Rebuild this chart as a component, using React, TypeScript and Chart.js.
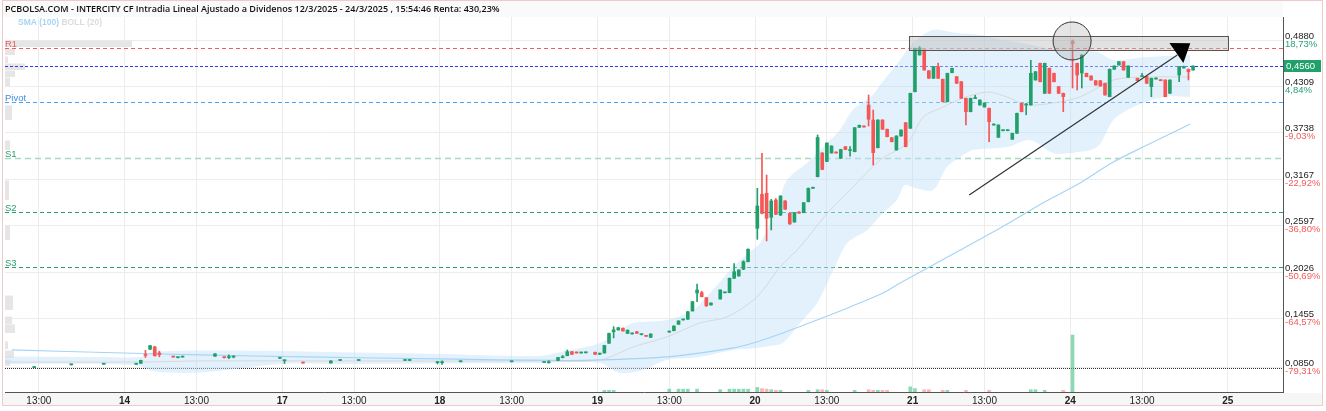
import React, { useEffect, useRef } from 'react';
import { Chart, registerables } from 'chart.js';

Chart.register(...registerables);

const titleText =
  'PCBOLSA.COM - INTERCITY CF Intradia Lineal Ajustado a Dividenos 12/3/2025 - 24/3/2025 , 15:54:46 Renta: 430,23%';
const indicatorSma = 'SMA (100)';
const indicatorBoll = 'BOLL (20)';

// x values are 15-minute session slots counted from the 13/3 open (34 slots per session)
// candles: [slot, open, high, low, close]
const candles: number[][] = [
  [14, 0.0850, 0.0858, 0.0850, 0.0856],
  [22, 0.0884, 0.0892, 0.0882, 0.0890],
  [29, 0.0892, 0.0900, 0.0890, 0.0898],
  [36, 0.0892, 0.0900, 0.0890, 0.0898],
  [37, 0.0903, 0.0942, 0.0900, 0.0939],
  [38, 0.1010, 0.1062, 0.0975, 0.1000],
  [39, 0.1076, 0.1125, 0.1070, 0.1120],
  [40, 0.1106, 0.1112, 0.0990, 0.0997],
  [41, 0.1030, 0.1053, 0.0983, 0.1010],
  [44, 0.0986, 0.0988, 0.0978, 0.0980],
  [45, 0.0972, 0.0980, 0.0970, 0.0978],
  [46, 0.0980, 0.0988, 0.0978, 0.0986],
  [53, 0.0990, 0.1022, 0.0988, 0.1019],
  [55, 0.0980, 0.0982, 0.0968, 0.0972],
  [56, 0.0975, 0.1006, 0.0961, 0.0985],
  [57, 0.0980, 0.0995, 0.0970, 0.0990],
  [67, 0.0965, 0.0978, 0.0960, 0.0975],
  [68, 0.0935, 0.0945, 0.0900, 0.0942],
  [72, 0.0912, 0.0914, 0.0905, 0.0906],
  [78, 0.0907, 0.0935, 0.0905, 0.0932],
  [80, 0.0938, 0.0944, 0.0936, 0.0942],
  [84, 0.0938, 0.0944, 0.0936, 0.0942],
  [94, 0.0938, 0.0944, 0.0936, 0.0942],
  [95, 0.0938, 0.0944, 0.0936, 0.0942],
  [101, 0.0912, 0.0925, 0.0895, 0.0918],
  [102, 0.0910, 0.0932, 0.0890, 0.0920],
  [106, 0.0922, 0.0930, 0.0920, 0.0928],
  [117, 0.0922, 0.0930, 0.0920, 0.0928],
  [124, 0.0912, 0.0922, 0.0910, 0.0920],
  [125, 0.0910, 0.0935, 0.0905, 0.0920],
  [127, 0.0938, 0.0978, 0.0936, 0.0975],
  [128, 0.0972, 0.1000, 0.0970, 0.0980],
  [129, 0.0997, 0.1067, 0.0995, 0.1046],
  [130, 0.1046, 0.1050, 0.1010, 0.1014],
  [131, 0.1040, 0.1042, 0.1028, 0.1030],
  [132, 0.1030, 0.1038, 0.1028, 0.1035],
  [133, 0.1032, 0.1040, 0.1030, 0.1037],
  [135, 0.1039, 0.1042, 0.1010, 0.1014],
  [136, 0.1014, 0.1030, 0.1012, 0.1027],
  [137, 0.1030, 0.1125, 0.1028, 0.1122],
  [138, 0.1150, 0.1275, 0.1148, 0.1272],
  [139, 0.1289, 0.1354, 0.1215, 0.1314],
  [140, 0.1313, 0.1345, 0.1310, 0.1341],
  [141, 0.1334, 0.1338, 0.1298, 0.1301],
  [142, 0.1270, 0.1315, 0.1268, 0.1310],
  [143, 0.1265, 0.1275, 0.1262, 0.1272],
  [144, 0.1292, 0.1295, 0.1270, 0.1272],
  [145, 0.1255, 0.1265, 0.1252, 0.1262],
  [146, 0.1245, 0.1247, 0.1233, 0.1235],
  [147, 0.1223, 0.1266, 0.1220, 0.1264],
  [151, 0.1287, 0.1300, 0.1285, 0.1297],
  [152, 0.1304, 0.1365, 0.1302, 0.1362],
  [153, 0.1383, 0.1427, 0.1380, 0.1424],
  [154, 0.1437, 0.1448, 0.1435, 0.1445],
  [155, 0.1445, 0.1541, 0.1443, 0.1538],
  [156, 0.1547, 0.1664, 0.1545, 0.1661],
  [157, 0.1768, 0.1879, 0.1661, 0.1805],
  [158, 0.1772, 0.1790, 0.1720, 0.1723],
  [159, 0.1710, 0.1712, 0.1600, 0.1612],
  [160, 0.1621, 0.1648, 0.1619, 0.1645],
  [162, 0.1694, 0.1808, 0.1692, 0.1805],
  [163, 0.1770, 0.1780, 0.1768, 0.1777],
  [164, 0.1772, 0.1952, 0.1770, 0.1949],
  [165, 0.1949, 0.2131, 0.1947, 0.2030],
  [166, 0.1977, 0.2054, 0.1975, 0.2051],
  [167, 0.2061, 0.2165, 0.2055, 0.2153],
  [168, 0.2153, 0.2310, 0.2150, 0.2306],
  [170, 0.2564, 0.3056, 0.2428, 0.2838],
  [171, 0.2982, 0.3486, 0.2740, 0.2748],
  [172, 0.2994, 0.3219, 0.2408, 0.2687],
  [173, 0.2699, 0.2920, 0.2543, 0.2900],
  [174, 0.2912, 0.2930, 0.2730, 0.2736],
  [175, 0.2727, 0.2965, 0.2720, 0.2961],
  [176, 0.2900, 0.2905, 0.2795, 0.2798],
  [177, 0.2748, 0.2752, 0.2612, 0.2617],
  [178, 0.2641, 0.2760, 0.2638, 0.2756],
  [179, 0.2764, 0.2768, 0.2748, 0.2750],
  [180, 0.2756, 0.2882, 0.2754, 0.2879],
  [181, 0.2891, 0.3060, 0.2888, 0.3056],
  [182, 0.3056, 0.3070, 0.3054, 0.3066],
  [183, 0.3199, 0.3712, 0.3195, 0.3681],
  [184, 0.3490, 0.3495, 0.3284, 0.3287],
  [185, 0.3386, 0.3616, 0.3383, 0.3613],
  [186, 0.3490, 0.3580, 0.3488, 0.3576],
  [187, 0.3500, 0.3503, 0.3488, 0.3490],
  [188, 0.3425, 0.3536, 0.3422, 0.3533],
  [189, 0.3568, 0.3570, 0.3530, 0.3533],
  [190, 0.3520, 0.3570, 0.3450, 0.3530],
  [191, 0.3506, 0.3804, 0.3504, 0.3801],
  [192, 0.3806, 0.3834, 0.3804, 0.3831],
  [193, 0.3820, 0.3823, 0.3808, 0.3810],
  [194, 0.4080, 0.4203, 0.3822, 0.3905],
  [195, 0.3896, 0.4019, 0.3342, 0.3494],
  [196, 0.3555, 0.3899, 0.3553, 0.3896],
  [197, 0.3896, 0.3899, 0.3780, 0.3782],
  [198, 0.3782, 0.3785, 0.3689, 0.3691],
  [199, 0.3678, 0.3681, 0.3627, 0.3629],
  [200, 0.3527, 0.3702, 0.3525, 0.3699],
  [201, 0.3699, 0.3776, 0.3697, 0.3773],
  [202, 0.3863, 0.3866, 0.3566, 0.3568],
  [203, 0.3794, 0.4227, 0.3792, 0.4224],
  [204, 0.4244, 0.4782, 0.4242, 0.4778],
  [205, 0.4696, 0.4800, 0.4694, 0.4782],
  [206, 0.4757, 0.4760, 0.4508, 0.4511],
  [207, 0.4502, 0.4505, 0.4406, 0.4409],
  [208, 0.4409, 0.4555, 0.4407, 0.4552],
  [209, 0.4552, 0.4597, 0.4406, 0.4409],
  [210, 0.4397, 0.4400, 0.4118, 0.4121],
  [211, 0.4121, 0.4473, 0.4119, 0.4470],
  [212, 0.4478, 0.4535, 0.4476, 0.4532],
  [213, 0.4429, 0.4432, 0.4344, 0.4347],
  [214, 0.4367, 0.4370, 0.4160, 0.4163],
  [215, 0.4163, 0.4166, 0.3834, 0.3998],
  [216, 0.3998, 0.4166, 0.3996, 0.4163],
  [217, 0.4160, 0.4200, 0.4158, 0.4170],
  [218, 0.4081, 0.4145, 0.4079, 0.4142],
  [219, 0.4056, 0.4108, 0.4054, 0.4105],
  [220, 0.4040, 0.4043, 0.3629, 0.3875],
  [221, 0.3834, 0.3848, 0.3832, 0.3845],
  [222, 0.3683, 0.3837, 0.3681, 0.3834],
  [223, 0.3765, 0.3776, 0.3763, 0.3773],
  [224, 0.3765, 0.3776, 0.3763, 0.3773],
  [225, 0.3659, 0.3735, 0.3657, 0.3732],
  [226, 0.3732, 0.3981, 0.3730, 0.3978],
  [227, 0.4101, 0.4104, 0.3996, 0.3998],
  [228, 0.4080, 0.4101, 0.3960, 0.4090],
  [229, 0.4081, 0.4630, 0.4079, 0.4470],
  [230, 0.4388, 0.4493, 0.4386, 0.4490],
  [231, 0.4593, 0.4596, 0.4364, 0.4367],
  [232, 0.4224, 0.4596, 0.4222, 0.4593],
  [233, 0.4532, 0.4535, 0.4221, 0.4224],
  [234, 0.4470, 0.4473, 0.4364, 0.4367],
  [235, 0.4306, 0.4309, 0.4221, 0.4224],
  [236, 0.4224, 0.4227, 0.3998, 0.4183],
  [238, 0.4868, 0.4880, 0.4290, 0.4832],
  [239, 0.4593, 0.4596, 0.4265, 0.4450],
  [240, 0.4474, 0.4698, 0.4290, 0.4695],
  [241, 0.4470, 0.4473, 0.4427, 0.4429],
  [242, 0.4437, 0.4440, 0.4386, 0.4388],
  [243, 0.4379, 0.4382, 0.4325, 0.4327],
  [244, 0.4379, 0.4382, 0.4312, 0.4314],
  [245, 0.4347, 0.4350, 0.4202, 0.4204],
  [246, 0.4183, 0.4523, 0.4181, 0.4520],
  [247, 0.4520, 0.4563, 0.4518, 0.4560],
  [248, 0.4572, 0.4616, 0.4570, 0.4613],
  [249, 0.4613, 0.4616, 0.4509, 0.4511],
  [250, 0.4421, 0.4563, 0.4419, 0.4560],
  [252, 0.4409, 0.4412, 0.4378, 0.4380],
  [253, 0.4430, 0.4470, 0.4428, 0.4440],
  [254, 0.4429, 0.4432, 0.4345, 0.4347],
  [255, 0.4306, 0.4412, 0.4183, 0.4409],
  [256, 0.4400, 0.4415, 0.4398, 0.4412],
  [257, 0.4390, 0.4393, 0.4378, 0.4380],
  [258, 0.4388, 0.4391, 0.4181, 0.4183],
  [259, 0.4224, 0.4391, 0.4222, 0.4388],
  [261, 0.4450, 0.4555, 0.4367, 0.4552],
  [262, 0.4536, 0.4560, 0.4534, 0.4550],
  [263, 0.4520, 0.4523, 0.4388, 0.4490],
  [264, 0.4511, 0.4563, 0.4509, 0.4560],
];

const volumeSlots = [137, 138, 139, 151, 153, 154, 155, 157, 162, 164, 165, 166, 167, 168, 170, 171, 172, 173, 174, 175,
  181, 183, 184, 185, 191, 194, 195, 196, 197, 198, 203, 204, 206, 207, 210, 211, 215, 220, 229, 230, 232, 236, 238];
const volumeValues = [3, 3, 3, 5, 5, 5, 5, 5, 4, 5, 5, 5, 5, 5, 8, 6, 5, 4, 3, 3,
  3, 4, 4, 3, 3, 4, 3, 3, 3, 3, 9, 6, 4, 4, 3, 3, 3, 3, 4, 4, 3, 3, 100];
// 1 = buying (green) bar, 0 = selling (red) bar
const volumeUp = [1, 1, 1, 1, 1, 1, 1, 1, 1, 1, 1, 1, 1, 1, 1, 0, 0, 1, 0, 1,
  1, 1, 0, 1, 1, 0, 0, 1, 0, 0, 1, 1, 0, 0, 0, 1, 0, 0, 1, 1, 1, 0, 1];

const smaSlots = [9.7, 33.7, 50.3, 73.3, 102, 127.3, 136.6, 151, 165.3, 169.6, 176, 183.4, 190.5, 197.6, 201.3, 214.3, 222.9, 232.1, 240.1, 247.3, 254.6, 263.9];
const smaValues = [0.1067, 0.1030, 0.1006, 0.0981, 0.0957, 0.0938, 0.0944, 0.0981, 0.1092, 0.1153, 0.1276, 0.1436, 0.1596, 0.1768, 0.1891, 0.2297, 0.2568, 0.2875, 0.3121, 0.3379, 0.3589, 0.3847];

const bollUpperSlots = [8.2, 28.7, 37.3, 40.6, 50.3, 67.5, 78.3, 102, 123.6, 128, 136.6, 140.9, 143.7, 151, 156.7, 160.3, 165.3, 168.9, 171.1, 174.8, 176.9, 181.2, 185.6, 188.3, 191.1, 195.4, 197, 201.3, 204.1, 208.4, 213.6, 218.5, 223.5, 227.8, 232.5, 237.3, 243.8, 247.3, 254.6, 263.9];
const bollUpperValues = [0.0987, 0.0981, 0.0981, 0.1042, 0.1061, 0.1055, 0.1042, 0.1018, 0.0993, 0.1042, 0.1153, 0.1313, 0.1399, 0.1436, 0.1559, 0.1768, 0.2088, 0.2272, 0.2383, 0.2826, 0.3158, 0.3367, 0.3613, 0.3773, 0.4019, 0.4204, 0.4327, 0.4634, 0.4843, 0.5003, 0.4966, 0.4942, 0.4880, 0.4843, 0.4782, 0.4757, 0.4732, 0.4634, 0.4671, 0.4695];

const bollLowerSlots = [8.2, 28.7, 37.3, 40.6, 50.3, 67.5, 78.3, 102, 123.6, 128, 136.6, 140.9, 145.8, 151, 158.1, 165.3, 170.4, 173.2, 176, 179.7, 183.4, 186.9, 189.9, 194.2, 197.6, 200.6, 202.3, 204.5, 208.4, 211.4, 214.9, 217, 224.4, 229.3, 234.3, 238, 243.8, 247.3, 251.6, 258, 263.9];
const bollLowerValues = [0.0895, 0.0895, 0.0870, 0.0803, 0.0790, 0.0895, 0.0895, 0.0901, 0.0907, 0.0919, 0.0907, 0.0784, 0.0821, 0.0944, 0.0981, 0.1067, 0.1092, 0.1116, 0.1153, 0.1399, 0.1645, 0.2051, 0.2383, 0.2543, 0.2752, 0.2912, 0.3097, 0.3060, 0.3035, 0.3318, 0.3466, 0.3527, 0.3564, 0.3650, 0.3490, 0.3490, 0.3564, 0.3896, 0.4056, 0.4179, 0.4179];

const bollMidSlots = [8.2, 37.3, 50.3, 78.3, 123.6, 136.6, 143.7, 151, 158.1, 163.9, 170.4, 175.4, 179.7, 185.6, 190.5, 197, 202.9, 206.3, 210.6, 214.9, 220.1, 224.4, 228.7, 234.3, 240.1, 247.3, 254.6, 263.9];
const bollMidValues = [0.0919, 0.0919, 0.0932, 0.0932, 0.0932, 0.0944, 0.1104, 0.1227, 0.1399, 0.1473, 0.1719, 0.2088, 0.2334, 0.2752, 0.3035, 0.3404, 0.3613, 0.3933, 0.4056, 0.4167, 0.4240, 0.4179, 0.4081, 0.4105, 0.4179, 0.4388, 0.4425, 0.4425];

// volume-at-price profile (price bin top, bottom, volume)
const profileTops = [0.4880, 0.4782, 0.4683, 0.4597, 0.4511, 0.4425, 0.4081, 0.3650, 0.3158, 0.2604, 0.1743, 0.1485, 0.1387, 0.1178, 0.1067, 0.0956];
const profileBottoms = [0.4794, 0.4695, 0.4597, 0.4511, 0.4425, 0.4314, 0.3896, 0.3527, 0.2912, 0.2420, 0.1559, 0.1387, 0.1276, 0.1079, 0.0969, 0.0870];
const profileVolumes = [127, 10, 3, 20, 10, 5, 7, 5, 4, 5, 8, 7, 10, 3, 9, 5];

const xTickValues = [15.5, 34, 49.5, 68, 83.5, 102, 117.5, 136, 151.5, 170, 185.5, 204, 219.5, 238, 253.5, 272];
const xTickLabels = ['13:00', '14', '13:00', '17', '13:00', '18', '13:00', '19', '13:00', '20', '13:00', '21', '13:00', '24', '13:00', '25'];

const yTickValues = [0.0850, 0.1455, 0.2026, 0.2597, 0.3167, 0.3738, 0.4309, 0.4880];
const yTickLabels = ['0,0850', '0,1455', '0,2026', '0,2597', '0,3167', '0,3738', '0,4309', '0,4880'];
const yTickPercents = ['-79,31%', '-64,57%', '-50,69%', '-36,80%', '-22,92%', '-9,03%', '4,84%', '18,73%'];

const levelNames = ['R1', '', 'Pivot', 'S1', 'S2', 'S3', ''];
const levelValues = [0.4782, 0.4560, 0.4117, 0.3432, 0.2764, 0.2088, 0.0850];

const lastPrice = 0.4560;
const lastPriceLabel = '0,4560';

// drawing annotations (data coordinates)
const zoneSlots = [203.2, 272];
const zonePrices = [0.4929, 0.4757];
const circleSlot = 238.4;
const circlePrice = 0.4868;
const trendSlots = [216.2, 261.1];
const trendPrices = [0.2973, 0.4695];
const arrowSlots = [259.4, 263.9, 262.4];
const arrowPrices = [0.4843, 0.4840, 0.4597];

const X_MIN = 8.2;
const X_MAX = 283.9;
const Y_MIN = 0.055;
const Y_MAX = 0.5163;

// ---------- styles ----------
const GREEN = '#22a06b';
const RED = '#f55656';
const NARROW = '"Liberation Sans Narrow", "Liberation Sans", Arial, sans-serif';
const SANS = '"Liberation Sans", Arial, sans-serif';
const levelStyles = [
  { color: '#f25c5c', dash: [4, 3], width: 1, label: '#f25c5c' },
  { color: '#3535f0', dash: [3, 2], width: 1, label: '' },
  { color: '#4aa3f0', dash: [4, 3], width: 1, label: '#3a8ee6' },
  { color: '#a6d9c3', dash: [6, 4], width: 1.6, label: '#2a9d6f' },
  { color: '#2a9d6f', dash: [4, 3], width: 1, label: '#2a9d6f' },
  { color: '#2a9d6f', dash: [4, 3], width: 1, label: '#2a9d6f' },
  { color: '#333333', dash: [1, 1], width: 1, label: '' },
];

const isUp = (c: number[]) => c[4] >= c[1];

const framePlugin = {
  id: 'frame',
  beforeDraw(chart: any) {
    const ctx = chart.ctx;
    const { chartArea } = chart;
    ctx.save();
    ctx.fillStyle = '#ffffff';
    ctx.fillRect(0, 0, chart.width, chart.height);
    ctx.fillStyle = '#f6f6f6';
    ctx.fillRect(3, chartArea.bottom + 1, 1319, 13);
    ctx.fillStyle = '#fafafa';
    ctx.fillRect(3, 1, chartArea.right - 3, chartArea.top - 1);
    ctx.strokeStyle = '#efcaca';
    ctx.lineWidth = 1;
    ctx.strokeRect(2.5, 0.5, 1320, 405);
    ctx.restore();
  },
  beforeDatasetsDraw(chart: any) {
    const ctx = chart.ctx;
    const { chartArea } = chart;
    const y = chart.scales.y;
    ctx.save();
    // volume profile
    ctx.fillStyle = '#e6e6e6';
    profileTops.forEach((t, i) => {
      const y1 = y.getPixelForValue(t);
      const y2 = y.getPixelForValue(profileBottoms[i]);
      ctx.fillRect(chartArea.left, y1 + 0.5, profileVolumes[i], y2 - y1 - 0.5);
    });
    // levels
    levelValues.forEach((v, i) => {
      const st = levelStyles[i];
      const py = Math.round(y.getPixelForValue(v)) + 0.5;
      ctx.beginPath();
      ctx.setLineDash(st.dash);
      ctx.strokeStyle = st.color;
      ctx.lineWidth = st.width;
      ctx.moveTo(chartArea.left, py);
      ctx.lineTo(chartArea.right, py);
      ctx.stroke();
      if (levelNames[i]) {
        ctx.setLineDash([]);
        ctx.fillStyle = st.label;
        ctx.font = '9.5px ' + SANS;
        ctx.textBaseline = 'alphabetic';
        ctx.textAlign = 'left';
        ctx.fillText(levelNames[i], chartArea.left, py - 2);
      }
    });
    ctx.restore();
  },
  afterDatasetsDraw(chart: any) {
    const ctx = chart.ctx;
    const xs = chart.scales.x;
    const ys = chart.scales.y;
    const px = (s: number) => xs.getPixelForValue(s);
    const py = (v: number) => ys.getPixelForValue(v);
    ctx.save();
    // zone rectangle
    const rx1 = px(zoneSlots[0]);
    const rx2 = px(zoneSlots[1]);
    const ry1 = py(zonePrices[0]);
    const ry2 = py(zonePrices[1]);
    ctx.fillStyle = 'rgba(190,190,190,0.45)';
    ctx.fillRect(rx1, ry1, rx2 - rx1, ry2 - ry1);
    ctx.strokeStyle = '#555';
    ctx.lineWidth = 1;
    ctx.strokeRect(Math.round(rx1) + 0.5, Math.round(ry1) + 0.5, Math.round(rx2 - rx1), Math.round(ry2 - ry1));
    // circle
    ctx.beginPath();
    ctx.arc(px(circleSlot), py(circlePrice), 19, 0, Math.PI * 2);
    ctx.fillStyle = 'rgba(170,170,170,0.3)';
    ctx.fill();
    ctx.strokeStyle = '#333';
    ctx.stroke();
    // trend line
    ctx.beginPath();
    ctx.moveTo(px(trendSlots[0]), py(trendPrices[0]));
    ctx.lineTo(px(trendSlots[1]), py(trendPrices[1]));
    ctx.strokeStyle = '#333';
    ctx.lineWidth = 1.2;
    ctx.stroke();
    // arrow head
    ctx.beginPath();
    arrowSlots.forEach((s, i) => {
      if (i === 0) ctx.moveTo(px(s), py(arrowPrices[i]));
      else ctx.lineTo(px(s), py(arrowPrices[i]));
    });
    ctx.closePath();
    ctx.fillStyle = '#000';
    ctx.fill();
    ctx.restore();
  },
  afterDraw(chart: any) {
    const ctx = chart.ctx;
    const { chartArea } = chart;
    const ys = chart.scales.y;
    ctx.save();
    // title
    ctx.font = '600 9px "Open Sans", "Noto Sans", sans-serif';
    ctx.fillStyle = '#111';
    ctx.textBaseline = 'middle';
    ctx.textAlign = 'left';
    ctx.fillText(titleText, 5, 9);
    // indicator legend
    ctx.font = 'bold 8.5px ' + SANS;
    ctx.fillStyle = '#a9d5f5';
    ctx.fillText(indicatorSma, 18, 23);
    const w = ctx.measureText(indicatorSma + ' ').width;
    ctx.fillStyle = '#dcdcdc';
    ctx.fillText(indicatorBoll, 18 + w, 23);
    // y labels
    const lx = chartArea.right + 2;
    yTickValues.forEach((v, i) => {
      const p = ys.getPixelForValue(v);
      ctx.font = '9.5px ' + NARROW;
      ctx.fillStyle = '#222';
      ctx.fillText(yTickLabels[i], lx, p - 4);
      ctx.fillStyle = yTickPercents[i].startsWith('-') ? '#f25c5c' : '#26a17a';
      ctx.fillText(yTickPercents[i], lx, p + 4);
    });
    // last price badge
    const bp = ys.getPixelForValue(lastPrice);
    ctx.fillStyle = '#22a06b';
    ctx.fillRect(chartArea.right + 1, bp - 6, 37, 12);
    ctx.fillStyle = '#fff';
    ctx.font = '9.5px ' + NARROW;
    ctx.fillText(lastPriceLabel, chartArea.right + 3, bp);
    ctx.restore();
  },
};

export default function App() {
  const ref = useRef<HTMLCanvasElement>(null);
  useEffect(() => {
    const canvas = ref.current!;
    const wickData = candles.map((c) => ({ x: c[0] + 0.5, y: [c[3], c[2]] }));
    const bodyData = candles.map((c) => ({ x: c[0] + 0.5, y: [Math.min(c[1], c[4]), Math.max(c[1], c[4])] }));
    const colors = candles.map((c) => (isUp(c) ? GREEN : RED));
    const volData = volumeSlots.map((s, i) => ({ x: s + 0.5, y: volumeValues[i] }));
    const volColors = volumeUp.map((u) => (u ? 'rgba(60,195,130,0.6)' : 'rgba(245,90,90,0.45)'));
    const xy = (xsArr: number[], ysArr: number[]) => xsArr.map((x, i) => ({ x, y: ysArr[i] }));

    const chart = new Chart(canvas, {
      type: 'bar',
      data: {
        datasets: [
          {
            type: 'line',
            data: xy(bollUpperSlots, bollUpperValues),
            borderWidth: 0,
            borderColor: 'rgba(0,0,0,0)',
            backgroundColor: 'rgba(190,225,248,0.45)',
            fill: '+1',
            pointRadius: 0,
            tension: 0.3,
            order: 10,
          } as any,
          {
            type: 'line',
            data: xy(bollLowerSlots, bollLowerValues),
            borderWidth: 0,
            borderColor: 'rgba(0,0,0,0)',
            pointRadius: 0,
            fill: false,
            tension: 0.3,
            order: 10,
          },
          {
            type: 'line',
            data: xy(bollMidSlots, bollMidValues),
            borderWidth: 1,
            borderColor: '#d9d9d9',
            pointRadius: 0,
            fill: false,
            tension: 0.3,
            order: 9,
          },
          {
            type: 'line',
            data: xy(smaSlots, smaValues),
            borderWidth: 1.2,
            borderColor: '#a5d4f7',
            pointRadius: 0,
            fill: false,
            tension: 0.3,
            order: 8,
          },
          {
            type: 'bar',
            data: volData as any,
            yAxisID: 'y2',
            backgroundColor: volColors,
            barThickness: 3,
            grouped: false,
            order: 7,
          } as any,
          {
            type: 'bar',
            data: wickData as any,
            backgroundColor: colors,
            barThickness: 1,
            grouped: false,
            minBarLength: 1,
            order: 2,
          } as any,
          {
            type: 'bar',
            data: bodyData as any,
            backgroundColor: colors,
            barThickness: 3,
            grouped: false,
            minBarLength: 1,
            order: 1,
          } as any,
        ],
      },
      options: {
        responsive: false,
        animation: false,
        devicePixelRatio: 1,
        layout: { padding: { left: 5, top: 17, right: 0, bottom: 0 } },
        plugins: { legend: { display: false }, tooltip: { enabled: false } },
        scales: {
          x: {
            type: 'linear',
            min: X_MIN,
            max: X_MAX,
            offset: false,
            afterBuildTicks: (axis: any) => {
              axis.ticks = xTickValues.map((value) => ({ value }));
            },
            afterFit: (axis: any) => {
              axis.height = 19;
            },
            ticks: {
              autoSkip: false,
              maxRotation: 0,
              padding: 3,
              color: '#222',
              callback: (_v: any, i: number) => xTickLabels[i],
              font: (c: any) => ({
                family: NARROW,
                size: 10,
                weight: /^\d+$/.test(xTickLabels[c.index] || '') ? 'bold' : 'normal',
              }),
            },
            grid: { color: '#ececec', drawTicks: false, offset: false },
            border: { display: true, color: '#555', width: 1 },
          } as any,
          y: {
            type: 'linear',
            position: 'right',
            min: Y_MIN,
            max: Y_MAX,
            afterBuildTicks: (axis: any) => {
              axis.ticks = yTickValues.map((value) => ({ value }));
            },
            afterFit: (axis: any) => {
              axis.width = 43;
            },
            ticks: { display: false },
            grid: { color: '#ececec', drawTicks: false },
            border: { display: true, color: '#555', width: 1 },
          } as any,
          y2: {
            type: 'linear',
            display: false,
            min: 0,
            max: 658,
          },
        },
      },
      plugins: [framePlugin],
    });
    return () => chart.destroy();
  }, []);
  return (
    <div style={{ position: 'fixed', left: 0, top: 0, width: 1326, height: 411, background: '#fff' }}>
      <canvas ref={ref} width={1326} height={411} style={{ display: 'block' }} />
    </div>
  );
}
